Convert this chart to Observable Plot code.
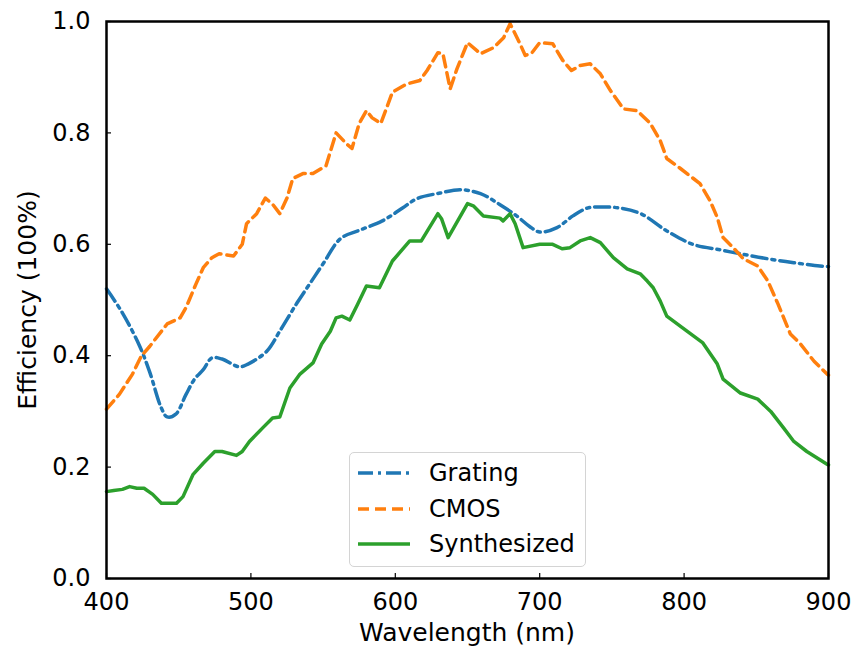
<!DOCTYPE html>
<html>
<head>
<meta charset="utf-8">
<script src="https://cdn.jsdelivr.net/npm/d3@7"></script>
<script src="https://cdn.jsdelivr.net/npm/@observablehq/plot@0.6"></script>
<style>
  html, body { margin: 0; padding: 0; background: #fff; }
  #wrap { position: relative; width: 853px; height: 648px; font-family: "DejaVu Sans", sans-serif; }
  #legend { position: absolute; left: 349px; top: 452px; width: 237px; height: 115px;
    border: 1.5px solid #d4d4d4; border-radius: 5px; background: rgba(255,255,255,0.85); box-sizing: border-box; }
  #legend .row { position: absolute; left: 0; height: 34px; display: flex; align-items: center; }
  #legend .row span { font-size: 24px; color: #000; }
</style>
</head>
<body>
<div id="wrap"></div>
<script>
// Tick values
const xTicks = [400, 500, 600, 700, 800, 900];
const yTicks = [0, 0.2, 0.4, 0.6, 0.8, 1.0];

// Series names and colours
const seriesNames = ["Grating", "CMOS", "Synthesized"];
const seriesColors = ["#1f77b4", "#ff7f0e", "#2ca02c"];

// Grating (dash-dot)
const gratingNm  = [400, 411, 423, 430, 438, 442, 448, 455, 461, 467, 473, 480, 492, 498, 511, 520, 532, 541, 550, 562, 575, 591, 605, 615, 631, 645, 659, 672, 684, 693, 700, 712, 723, 733, 742, 756, 770, 788, 806, 825, 839, 858, 876, 894, 900];
const gratingEff = [0.52, 0.477, 0.417, 0.37, 0.306, 0.29, 0.295, 0.33, 0.358, 0.375, 0.396, 0.394, 0.38, 0.385, 0.408, 0.444, 0.495, 0.53, 0.565, 0.61, 0.625, 0.642, 0.665, 0.682, 0.692, 0.698, 0.691, 0.672, 0.651, 0.632, 0.622, 0.63, 0.651, 0.665, 0.667, 0.665, 0.655, 0.624, 0.60, 0.59, 0.583, 0.574, 0.567, 0.561, 0.56];

// CMOS (dashed)
const cmosNm  = [400, 409, 418, 424, 430, 442, 451, 455, 462, 467, 473, 478, 488, 494, 497, 504, 510, 515, 520, 525, 529, 536, 543, 552, 559, 566, 570, 575, 580, 584, 590, 598, 608, 617, 622, 629.5, 633, 638, 642.7, 650, 659, 668, 675, 679.5, 686, 690, 694.7, 700, 709, 716, 722, 728, 735, 742, 749, 758, 767.5, 776.6, 783.5, 788, 797, 811, 818, 823, 827, 834, 841, 851, 858, 865, 873.6, 880.6, 890, 899, 900];
const cmosEff = [0.304, 0.331, 0.367, 0.399, 0.417, 0.457, 0.468, 0.486, 0.529, 0.558, 0.576, 0.583, 0.579, 0.60, 0.637, 0.655, 0.683, 0.672, 0.655, 0.683, 0.718, 0.727, 0.727, 0.741, 0.80, 0.781, 0.772, 0.817, 0.84, 0.827, 0.817, 0.873, 0.888, 0.894, 0.912, 0.944, 0.942, 0.879, 0.915, 0.962, 0.942, 0.953, 0.971, 0.996, 0.962, 0.939, 0.944, 0.962, 0.960, 0.93, 0.912, 0.921, 0.924, 0.906, 0.876, 0.843, 0.84, 0.817, 0.786, 0.754, 0.737, 0.709, 0.678, 0.648, 0.612, 0.594, 0.574, 0.561, 0.534, 0.493, 0.439, 0.421, 0.39, 0.367, 0.365];

// Synthesized (solid)
const synthNm  = [400, 405, 411, 416, 421, 426, 432, 438, 448.5, 453, 460, 467, 475, 480, 490, 494, 499, 508, 515, 520, 527, 534, 539, 543, 549, 555, 559, 563, 568.5, 574, 580, 589, 598, 610, 618, 629.5, 632, 636.6, 650, 654, 661, 672.5, 674.6, 679.5, 683, 688.5, 700, 709, 715.5, 721, 728, 735, 742, 751, 760.6, 769.6, 774.5, 778.6, 783.5, 788, 802, 813, 823, 827, 839, 851, 860, 869, 876, 885, 899, 900];
const synthEff = [0.156, 0.158, 0.16, 0.165, 0.162, 0.162, 0.151, 0.135, 0.135, 0.147, 0.187, 0.207, 0.228, 0.228, 0.221, 0.228, 0.246, 0.27, 0.288, 0.29, 0.342, 0.367, 0.378, 0.387, 0.421, 0.444, 0.468, 0.471, 0.464, 0.493, 0.525, 0.522, 0.57, 0.606, 0.606, 0.655, 0.646, 0.612, 0.673, 0.669, 0.651, 0.647, 0.642, 0.655, 0.637, 0.594, 0.60, 0.60, 0.592, 0.594, 0.606, 0.612, 0.603, 0.576, 0.556, 0.547, 0.534, 0.522, 0.498, 0.471, 0.444, 0.423, 0.385, 0.358, 0.333, 0.322, 0.30, 0.27, 0.246, 0.228, 0.205, 0.204];

const grating = gratingNm.map((x, i) => ({x, y: gratingEff[i]}));
const cmos = cmosNm.map((x, i) => ({x, y: cmosEff[i]}));
const synth = synthNm.map((x, i) => ({x, y: synthEff[i]}));

const dashes = ["15,5,3,5", "11,6", null];

const chart = Plot.plot({
  width: 853,
  height: 648,
  marginLeft: 106,
  marginRight: 25,
  marginTop: 21,
  marginBottom: 70,
  style: {fontFamily: "DejaVu Sans", fontSize: "24px", color: "#000", background: "#fff"},
  x: {domain: [400, 900]},
  y: {domain: [0, 1]},
  marks: [
    Plot.line(grating, {x: "x", y: "y", stroke: seriesColors[0], strokeWidth: 3.5, strokeDasharray: dashes[0], curve: "catmull-rom"}),
    Plot.line(cmos, {x: "x", y: "y", stroke: seriesColors[1], strokeWidth: 3.5, strokeDasharray: dashes[1]}),
    Plot.line(synth, {x: "x", y: "y", stroke: seriesColors[2], strokeWidth: 3.5}),
    Plot.axisX({ticks: xTicks, tickSize: -5, text: null, label: null, stroke: "#000", strokeWidth: 1.2}),
    Plot.axisX({ticks: xTicks, tickSize: 0, tickPadding: 14, tickFormat: d => String(d), label: null, fontSize: 24}),
    Plot.axisY({ticks: yTicks, tickSize: -5, text: null, label: null, stroke: "#000", strokeWidth: 1.2}),
    Plot.axisY({ticks: yTicks, tickSize: 0, tickPadding: 16, tickFormat: d => d.toFixed(1), label: null, fontSize: 24}),
    Plot.frame({stroke: "#000", strokeWidth: 2.5})
  ]
});

const wrap = document.getElementById("wrap");
wrap.appendChild(chart);

// Axis titles
const svg = d3.select(chart);
svg.append("text").attr("x", 467).attr("y", 641).attr("text-anchor", "middle")
  .attr("font-size", 25).attr("fill", "#000").text("Wavelength (nm)");
svg.append("text").attr("transform", "translate(36,300) rotate(-90)").attr("text-anchor", "middle")
  .attr("font-size", 25).attr("fill", "#000").text("Efficiency (100%)");

// Legend
const legend = document.createElement("div");
legend.id = "legend";
wrap.appendChild(legend);
const rowTops = [3, 39, 74];
seriesNames.forEach((name, i) => {
  const row = document.createElement("div");
  row.className = "row";
  row.style.top = rowTops[i] + "px";
  row.innerHTML = `<svg width="70" height="34"><line x1="8" x2="60" y1="17" y2="17" stroke="${seriesColors[i]}" stroke-width="3.5" ${dashes[i] ? `stroke-dasharray="${dashes[i]}"` : ""}/></svg><span style="margin-left:9px">${name}</span>`;
  legend.appendChild(row);
});
</script>
</body>
</html>
